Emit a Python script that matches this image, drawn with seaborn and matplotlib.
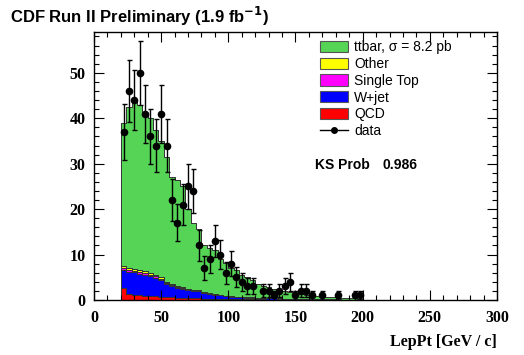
import numpy as np
import pandas as pd
import matplotlib
matplotlib.use("Agg")
import matplotlib.pyplot as plt
import seaborn as sns
from matplotlib.patches import Patch
from matplotlib.lines import Line2D
from matplotlib.ticker import MultipleLocator

# bins of 4 GeV from 20 to 200
bin_edges = list(range(20, 201, 4))
bin_centres = np.array(bin_edges[:-1]) + 2

ttbar = [31.6, 35.5, 37.1, 36.5, 34.7, 34.1, 31.9, 30.0, 27.4, 23.5,
         23.4, 22.3, 17.5, 14.7, 13.4, 10.3, 10.0, 9.6, 7.9, 7.1,
         6.2, 5.75, 4.8, 4.4, 3.9, 3.0, 2.7, 2.4, 2.1, 1.85,
         1.6, 1.4, 1.25, 1.05, 0.9, 0.8, 0.75, 0.65, 0.55, 0.48,
         0.4, 0.4, 0.3, 0.3, 0.2]
other = [0.4, 0.4, 0.45, 0.4, 0.4, 0.4, 0.4, 0.3, 0.25, 0.2,
         0.2, 0.2, 0.15, 0.15, 0.12, 0.1, 0.1, 0.09, 0.08, 0.07,
         0.06, 0.05, 0.05, 0.04, 0.04, 0.03, 0.03, 0.03, 0.02, 0.02,
         0.02, 0.02, 0.02, 0.01, 0.01, 0.01, 0.01, 0.01, 0.01, 0.01,
         0.01, 0.01, 0.01, 0.01, 0.01]
single_top = [0.4, 0.4, 0.35, 0.3, 0.3, 0.3, 0.28, 0.25, 0.2, 0.2,
              0.18, 0.15, 0.14, 0.12, 0.1, 0.1, 0.08, 0.08, 0.07, 0.06,
              0.05, 0.05, 0.04, 0.04, 0.03, 0.03, 0.03, 0.02, 0.02, 0.02,
              0.02, 0.02, 0.01, 0.01, 0.01, 0.01, 0.01, 0.01, 0.01, 0.01,
              0.01, 0.01, 0.01, 0.01, 0.01]
wjet = [4.0, 4.9, 5.0, 4.8, 4.7, 4.3, 4.1, 3.8, 3.0, 2.55,
        2.2, 1.95, 1.8, 1.6, 1.55, 1.2, 1.0, 0.9, 0.75, 0.55,
        0.5, 0.45, 0.4, 0.38, 0.35, 0.32, 0.3, 0.28, 0.25, 0.22,
        0.2, 0.18, 0.16, 0.15, 0.13, 0.12, 0.1, 0.1, 0.09, 0.08,
        0.07, 0.06, 0.06, 0.05, 0.05]
qcd = [2.6, 1.3, 1.1, 1.0, 0.9, 0.9, 0.8, 0.6, 0.6, 0.55,
       0.5, 0.45, 0.4, 0.4, 0.35, 0.3, 0.3, 0.3, 0.25, 0.25,
       0.2, 0.2, 0.18, 0.15, 0.15, 0.12, 0.12, 0.1, 0.1, 0.08,
       0.08, 0.07, 0.06, 0.06, 0.05, 0.05, 0.04, 0.04, 0.03, 0.03,
       0.03, 0.02, 0.02, 0.02, 0.02]

data_counts = [37, 46, 44, 50, 41, 36, 34, 41, 34, 22,
               17, 21, 25, 24, 12, 7, 9, 13, 10, 6,
               8, 5, 4, 3, 3, 0, 2, 2, 1, 2,
               3, 4, 1, 2, 2, 1, 0, 1, 0, 0,
               1, 0, 0, 1, 1]

processes = ["ttbar", "Other", "Single Top", "W+jet", "QCD"]
labels = ["ttbar, \u03c3 = 8.2 pb", "Other", "Single Top", "W+jet", "QCD"]
colors = ["#55d455", "#ffff00", "#ff00ff", "#0000ff", "#ff0000"]

frames = []
for name, vals in zip(processes, [ttbar, other, single_top, wjet, qcd]):
    frames.append(pd.DataFrame({"pt": bin_centres, "w": vals, "proc": name}))
mc = pd.concat(frames, ignore_index=True)

fig = plt.figure(figsize=(5.24, 3.55), dpi=100)
ax = fig.add_axes([0.1794, 0.155, 0.769, 0.755])

sns.histplot(data=mc, x="pt", weights="w", hue="proc", hue_order=processes,
             multiple="stack", bins=bin_edges, element="step", fill=True,
             palette=dict(zip(processes, colors)), alpha=1, linewidth=0.7,
             edgecolor="#333333", legend=False, ax=ax)

# data with sqrt(N) errors, empty bins not drawn
counts = np.array(data_counts, dtype=float)
mask = counts > 0
ax.errorbar(bin_centres[mask], counts[mask], yerr=np.sqrt(counts[mask]),
            fmt="o", color="black", ms=4.5, elinewidth=1.0, capsize=1.8,
            capthick=1.0, zorder=5)

ax.set_xlim(0, 300)
ax.set_ylim(0, 59)
ax.xaxis.set_major_locator(MultipleLocator(50))
ax.xaxis.set_minor_locator(MultipleLocator(10))
ax.yaxis.set_major_locator(MultipleLocator(10))
ax.yaxis.set_minor_locator(MultipleLocator(2))
ax.tick_params(which="both", direction="in", top=True, right=True, width=0.8)
ax.tick_params(which="major", length=7)
ax.tick_params(which="minor", length=3.5)
for lab in ax.get_xticklabels() + ax.get_yticklabels():
    lab.set_family("Liberation Serif")
    lab.set_fontweight("bold")
    lab.set_fontsize(11.5)
ax.tick_params(axis="y", pad=6)
ax.tick_params(axis="x", pad=7)
for sp in ax.spines.values():
    sp.set_linewidth(1.0)
    sp.set_color("black")

ax.set_ylabel("")
ax.set_xlabel("LepPt [GeV / c]", family="Liberation Serif", fontweight="bold",
              fontsize=11.5, loc="right", labelpad=6)

handles = [Patch(facecolor=c, edgecolor="#555555", linewidth=0.8) for c in colors]
handles.append(Line2D([], [], color="black", marker="o", ms=4, lw=1))
ax.legend(handles, labels + ["data"], loc="upper left",
          bbox_to_anchor=(0.54, 1.0), frameon=False,
          prop={"family": "Liberation Sans", "size": 10},
          handlelength=2.0, handleheight=0.85, labelspacing=0.2,
          handletextpad=0.45, borderaxespad=0.2)

ax.text(0.548, 0.504, "KS Prob", transform=ax.transAxes,
        family="Liberation Sans", fontweight="bold", fontsize=10,
        va="center", ha="left")
ax.text(0.717, 0.504, "0.986", transform=ax.transAxes,
        family="Liberation Sans", fontweight="bold", fontsize=10,
        va="center", ha="left")

fig.text(0.02, 0.955, "CDF Run II Preliminary (1.9 fb$^{\\mathbf{-1}}$)",
         family="Liberation Sans", fontweight="bold", fontsize=12,
         va="center", ha="left")

fig.savefig("out.png", dpi=100)
